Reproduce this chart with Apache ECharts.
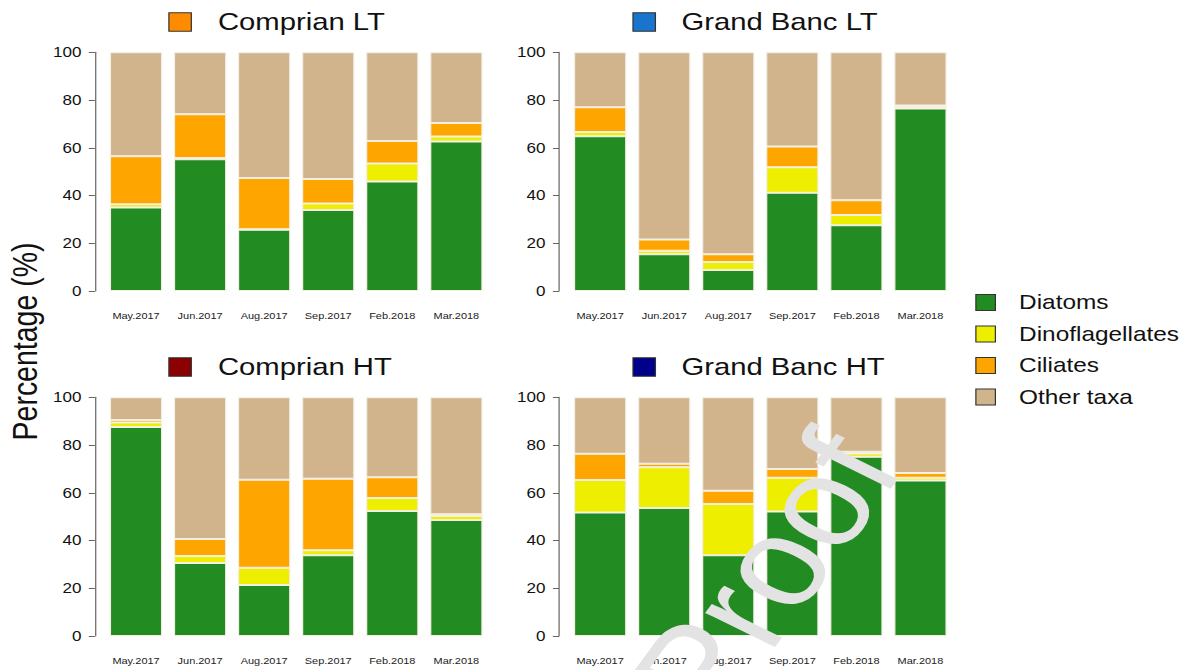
<!DOCTYPE html>
<html>
<head>
<meta charset="utf-8">
<script src="https://cdn.jsdelivr.net/npm/echarts@6/dist/echarts.min.js"></script>
<style>
  html, body { margin: 0; padding: 0; background: #fff; overflow: hidden; }
  /* the figure is laid out on a 980px canvas and widened to the 1195px page */
  #chart { width: 980px; height: 670px; transform: scaleX(1.2194); transform-origin: 0 0; }
</style>
</head>
<body>
<div id="chart"></div>
<script>
// ---- data -------------------------------------------------------------
const months = ['May.2017', 'Jun.2017', 'Aug.2017', 'Sep.2017', 'Feb.2018', 'Mar.2018'];
const taxa = ['Diatoms', 'Dinoflagellates', 'Ciliates', 'Other taxa'];
const yTicks = [0, 20, 40, 60, 80, 100];
const stationNames = ['Comprian LT', 'Grand Banc LT', 'Comprian HT', 'Grand Banc HT'];

// relative abundance (%) per sampling month
const comprianLT_diatoms  = [35.0, 55.2, 25.7, 33.9, 45.9, 62.6];
const comprianLT_dino     = [1.3, 0.5, 0.2, 2.8, 7.5, 2.1];
const comprianLT_ciliates = [20.1, 18.3, 21.4, 10.2, 9.4, 5.7];
const comprianLT_other    = [43.6, 26.0, 52.7, 53.1, 37.2, 29.6];

const grandBancLT_diatoms  = [64.8, 15.4, 8.8, 41.2, 27.5, 76.5];
const grandBancLT_dino     = [1.8, 1.5, 3.4, 10.6, 4.3, 0.5];
const grandBancLT_ciliates = [10.4, 4.7, 3.2, 8.7, 6.2, 0.7];
const grandBancLT_other    = [23.0, 78.4, 84.6, 39.5, 62.0, 22.3];

const comprianHT_diatoms  = [87.6, 30.6, 21.4, 33.8, 52.4, 48.6];
const comprianHT_dino     = [1.8, 2.9, 7.2, 2.1, 5.4, 1.7];
const comprianHT_ciliates = [1.1, 7.1, 36.9, 30.0, 8.7, 0.7];
const comprianHT_other    = [9.5, 59.4, 34.5, 34.1, 33.5, 49.0];

const grandBancHT_diatoms  = [51.7, 53.6, 33.8, 52.2, 75.1, 65.1];
const grandBancHT_dino     = [13.7, 17.1, 21.5, 14.1, 1.4, 1.2];
const grandBancHT_ciliates = [11.0, 1.5, 5.5, 3.7, 0.7, 2.0];
const grandBancHT_other    = [23.6, 27.8, 39.2, 30.0, 22.8, 31.7];

// ---- styling ----------------------------------------------------------
const FONT = 'Liberation Sans, Arial, Helvetica, sans-serif';
const taxaColors = ['#228B22', '#EEEE00', '#FFA500', '#D2B48C'];
const stationColors = ['#FF8C00', '#1874CD', '#8B0000', '#00008B'];

const panels = [
  { name: stationNames[0], values: [comprianLT_diatoms, comprianLT_dino, comprianLT_ciliates, comprianLT_other] },
  { name: stationNames[1], values: [grandBancLT_diatoms, grandBancLT_dino, grandBancLT_ciliates, grandBancLT_other] },
  { name: stationNames[2], values: [comprianHT_diatoms, comprianHT_dino, comprianHT_ciliates, comprianHT_other] },
  { name: stationNames[3], values: [grandBancHT_diatoms, grandBancHT_dino, grandBancHT_ciliates, grandBancHT_other] }
];

// panel placement (2 x 2)
const colLeft = [85.3, 465.9];
const rowTop = [52.3, 397.3];
const plotW = 315.2, plotH = 238.7;
const titleSquareX = [138.5, 519.1];
const titleTextX = [178.7, 558.8];

const grids = [], xAxes = [], yAxes = [], series = [], graphics = [];

panels.forEach((p, i) => {
  const col = i % 2, row = Math.floor(i / 2);
  grids.push({ left: colLeft[col], top: rowTop[row], width: plotW, height: plotH });

  xAxes.push({
    type: 'category', gridIndex: i, data: months,
    axisLine: { show: false }, axisTick: { show: false },
    axisLabel: { interval: 0, fontSize: 9, margin: 20, color: '#222', fontFamily: FONT }
  });

  yAxes.push({
    type: 'value', gridIndex: i,
    min: yTicks[0], max: yTicks[yTicks.length - 1], interval: yTicks[1] - yTicks[0],
    offset: 7.5,
    splitLine: { show: false },
    axisLine: { show: true, lineStyle: { color: '#666', width: 1 } },
    axisTick: { show: true, length: 5, lineStyle: { color: '#666', width: 1 } },
    axisLabel: { fontSize: 14, margin: 11, color: '#111', fontFamily: FONT }
  });

  taxa.forEach((t, k) => {
    series.push({
      type: 'bar', name: t, stack: 'panel' + i,
      xAxisIndex: i, yAxisIndex: i,
      data: p.values[k],
      barWidth: 43,
      itemStyle: { color: taxaColors[k], borderColor: '#f4efe3', borderWidth: 1 },
      emphasis: { disabled: true },
      silent: true
    });
  });

  // station key above each panel
  const cy = rowTop[row] - 30.3;
  graphics.push({
    type: 'rect',
    shape: { x: titleSquareX[col], y: cy - 9.2, width: 18.4, height: 18.4 },
    style: { fill: stationColors[i], stroke: '#333', lineWidth: 1 }
  });
  graphics.push({
    type: 'text', x: titleTextX[col], y: cy,
    style: { text: p.name, font: '24px ' + FONT, fill: '#111', textVerticalAlign: 'middle', textAlign: 'left' }
  });
});

// shared y-axis title
graphics.push({
  type: 'text', x: 20.5, y: 341.5, rotation: Math.PI / 2,
  style: { text: 'Percentage (%)', font: '28.5px ' + FONT, fill: '#111', textAlign: 'center', textVerticalAlign: 'middle' }
});

// proof watermark
graphics.push({
  type: 'text', x: 628, y: 575, rotation: 1.03, z: 100,
  style: { text: 'Proof', font: '126px ' + FONT, fill: '#e3e3e3', textAlign: 'center', textVerticalAlign: 'middle' }
});

const chart = echarts.init(document.getElementById('chart'), null, { renderer: 'svg' });
chart.setOption({
  animation: false,
  backgroundColor: '#fff',
  grid: grids,
  xAxis: xAxes,
  yAxis: yAxes,
  series: series,
  legend: {
    orient: 'vertical', left: 799.8, top: 292.6, padding: 0,
    itemWidth: 16, itemHeight: 16, itemGap: 11.5,
    selectedMode: false,
    icon: 'rect',
    itemStyle: { borderColor: '#333', borderWidth: 1 },
    textStyle: { fontSize: 20, color: '#111', fontFamily: FONT, padding: [0, 0, 0, 14.4] },
    data: taxa
  },
  graphic: graphics
});
</script>
</body>
</html>
